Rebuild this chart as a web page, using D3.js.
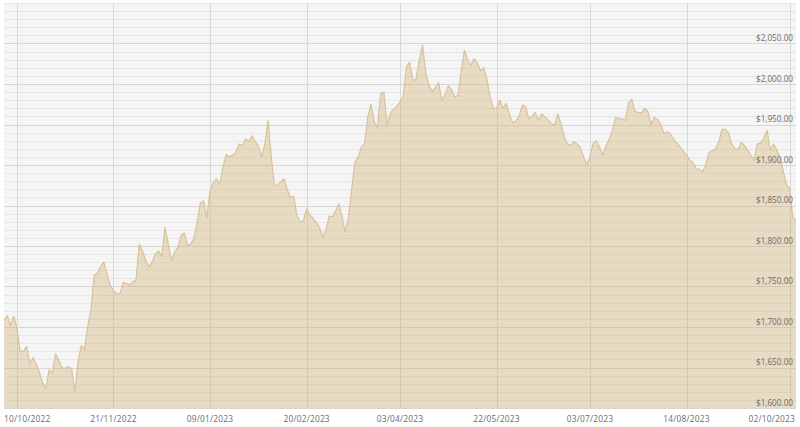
<!DOCTYPE html>
<html>
<head>
<meta charset="utf-8">
<script src="https://cdn.jsdelivr.net/npm/d3@7"></script>
<style>
  html, body { margin: 0; padding: 0; background: #ffffff; }
  svg { display: block; font-family: "Open Sans", sans-serif; }
</style>
</head>
<body>
<svg id="chart" width="800" height="427"></svg>
<script>
// Gold price (USD/oz), one value per trading day
const prices = [
  1708, 1714, 1702, 1713, 1699, 1670, 1670, 1676, 1655, 1662,
  1654, 1644, 1631, 1624, 1647, 1643, 1667, 1659, 1650, 1649,
  1651, 1649, 1620, 1657, 1677, 1672, 1701, 1720, 1764, 1766,
  1775, 1780, 1766, 1751, 1745, 1741, 1741, 1755, 1754, 1752,
  1756, 1758, 1802, 1794, 1782, 1774, 1780, 1790, 1794, 1787,
  1823, 1803, 1782, 1793, 1798, 1813, 1816, 1801, 1802, 1810,
  1829, 1853, 1856, 1835, 1868, 1878, 1883, 1876, 1897, 1913,
  1910, 1912, 1915, 1926, 1924, 1932, 1929, 1936, 1929, 1924,
  1910, 1925, 1955, 1910, 1875, 1875, 1879, 1883, 1869, 1860,
  1861, 1837, 1830, 1831, 1846, 1838, 1834, 1829, 1823, 1811,
  1819, 1837, 1836, 1843, 1852, 1836, 1817, 1835, 1871, 1903,
  1910, 1922, 1926, 1959, 1975, 1953, 1946, 1988, 1990, 1949,
  1964, 1969, 1972, 1978, 1984, 2021, 2027, 2004, 2006, 2030,
  2048, 2014, 1998, 1991, 1996, 2002, 1979, 1987, 1998, 1993,
  1984, 1986, 2015, 2042, 2030, 2023, 2031, 2026, 2016, 2020,
  2006, 1983, 1970, 1970, 1980, 1970, 1976, 1962, 1952, 1954,
  1961, 1974, 1972, 1957, 1960, 1965, 1955, 1963, 1959, 1956,
  1951, 1949, 1963, 1951, 1935, 1926, 1924, 1929, 1926, 1922,
  1910, 1901, 1910, 1927, 1930, 1922, 1912, 1924, 1932, 1943,
  1959, 1957, 1957, 1955, 1977, 1981, 1966, 1965, 1964, 1970,
  1966, 1950, 1959, 1956, 1950, 1939, 1941, 1938, 1932, 1927,
  1922, 1917, 1912, 1906, 1903, 1895, 1895, 1891, 1901, 1915,
  1918, 1920, 1928, 1944, 1944, 1940, 1926, 1920, 1919, 1928,
  1924, 1918, 1912, 1906, 1926, 1927, 1933, 1943, 1918, 1926,
  1919, 1910, 1893, 1876, 1871, 1835, 1832
];

// Date tick labels and the trading-day index each falls on
const tickLabels = ["10/10/2022", "21/11/2022", "09/01/2023", "20/02/2023", "03/04/2023",
                    "22/05/2023", "03/07/2023", "14/08/2023", "02/10/2023"];
const tickIndex = [4, 34, 64, 94, 123, 153, 182, 212, 244];

// Price axis
const yMin = 1600, yMax = 2100;
const yMajorTicks = [1600, 1650, 1700, 1750, 1800, 1850, 1900, 1950, 2000, 2050];
const yMinorStep = 10;

const svg = d3.select("#chart");
const plot = { left: 4, right: 796, top: 3, bottom: 408 };

const x = d3.scaleLinear().domain([0, prices.length - 1]).range([plot.left, plot.right]);
const y = d3.scaleLinear().domain([yMin, yMax]).range([plot.bottom, plot.top]);

// Plot background
svg.append("rect")
  .attr("x", plot.left).attr("y", plot.top)
  .attr("width", plot.right - plot.left).attr("height", plot.bottom - plot.top)
  .attr("fill", "#f5f5f5");

// Minor horizontal gridlines
const minorTicks = d3.range(yMin, yMax + 0.1, yMinorStep).filter(v => !yMajorTicks.includes(v));
svg.append("g").selectAll("line").data(minorTicks).join("line")
  .attr("x1", plot.left).attr("x2", plot.right)
  .attr("y1", d => Math.round(y(d)) + 0.5).attr("y2", d => Math.round(y(d)) + 0.5)
  .attr("stroke", "#e7e7e7").attr("stroke-width", 1);

// Major horizontal gridlines
svg.append("g").selectAll("line").data(yMajorTicks).join("line")
  .attr("x1", plot.left).attr("x2", plot.right)
  .attr("y1", d => Math.round(y(d)) + 0.5).attr("y2", d => Math.round(y(d)) + 0.5)
  .attr("stroke", "#d6d6d6").attr("stroke-width", 1);

// Vertical gridlines at date ticks
svg.append("g").selectAll("line").data(tickIndex).join("line")
  .attr("x1", d => Math.round(x(d)) + 0.5).attr("x2", d => Math.round(x(d)) + 0.5)
  .attr("y1", plot.top).attr("y2", plot.bottom)
  .attr("stroke", "#d8d8d8").attr("stroke-width", 1);

// Area
const area = d3.area()
  .x((d, i) => x(i))
  .y0(y(yMin))
  .y1(d => y(d));
svg.append("path")
  .datum(prices)
  .attr("d", area)
  .attr("fill", "rgba(212,176,112,0.36)");

const line = d3.line().x((d, i) => x(i)).y(d => y(d));
svg.append("path")
  .datum(prices)
  .attr("d", line)
  .attr("fill", "none")
  .attr("stroke", "#d9c299")
  .attr("stroke-width", 1.2)
  .attr("stroke-linejoin", "round");

// Y labels (inside plot, right side)
const fmt = d3.format(",.2f");
svg.append("g").selectAll("text").data(yMajorTicks).join("text")
  .attr("x", 793)
  .attr("y", d => y(d) - 2.5)
  .attr("text-anchor", "end")
  .attr("font-size", "8.2px")
  .attr("fill", "#6b6b6b")
  .text(d => "$" + fmt(d));

// X labels
const xl = svg.append("g");
tickIndex.forEach((idx, k) => {
  const t = xl.append("text")
    .attr("y", 422)
    .attr("font-size", "8.4px")
    .attr("fill", "#6b6b6b")
    .attr("letter-spacing", "0.2px")
    .text(tickLabels[k]);
  if (k === 0) {
    t.attr("x", plot.left).attr("text-anchor", "start");
  } else if (k === tickIndex.length - 1) {
    t.attr("x", plot.right - 1).attr("text-anchor", "end");
  } else {
    t.attr("x", x(idx)).attr("text-anchor", "middle");
  }
});
</script>
</body>
</html>
